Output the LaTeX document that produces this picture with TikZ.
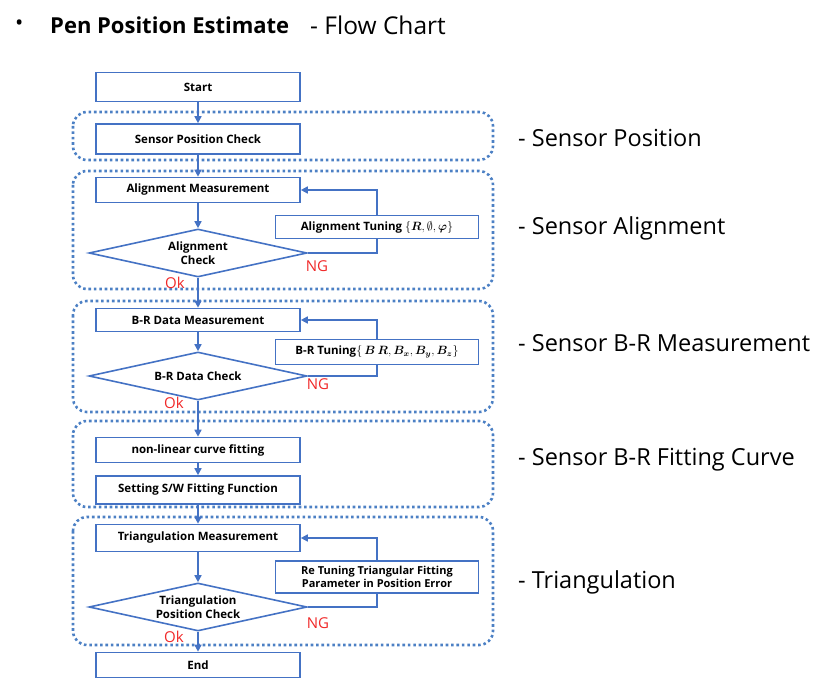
\documentclass[tikz,border=0pt]{standalone}
\usepackage{amsmath}
\usepackage{fontspec}
\setmainfont{Open Sans}
\usetikzlibrary{shapes.geometric,arrows.meta}
\definecolor{boxblue}{RGB}{68,114,196}
\definecolor{dotblue}{RGB}{76,128,196}
\definecolor{ngred}{RGB}{240,40,40}

\begin{document}
\begin{tikzpicture}[x = 1pt, y = -1pt,
    box/.style = {draw = boxblue, line width = 1.6pt, minimum width = 204pt, minimum height = 25pt, inner sep = 1pt, font = \fontsize{11.5}{13}\selectfont\bfseries},
    tune/.style = {box, minimum width = 203pt, align = center},
    check/.style = {draw = boxblue, line width = 1.6pt, shape = diamond, aspect = 4.5, minimum width = 218pt, minimum height = 48pt, inner sep = 0pt, align = center, font = \fontsize{11.5}{13.5}\selectfont\bfseries},
    group/.style = {draw = dotblue, line width = 2.6pt, dash pattern = on 2.6pt off 2.8pt, rounded corners = 14pt},
    flow/.style = {draw = boxblue, line width = 1.6pt},
    arr/.style = {flow, -{Triangle[length = 7pt, width = 7pt]}},
    phase/.style = {anchor = west, inner sep = 0pt, font = \fontsize{23.5}{27}\selectfont},
    result/.style = {text = ngred, inner sep = 0pt, font = \fontsize{15}{17}\selectfont}]
    \useasboundingbox (0,0) rectangle (828,682);

    % title
    \node[anchor = west, inner sep = 0pt, font = \fontsize{22}{26}\selectfont] (bullet) at (15,25) {\textbullet};
    \node[anchor = west, inner sep = 0pt, font = \fontsize{22}{26}\selectfont] (title) at (50,25) {\textbf{Pen Position Estimate}};
    \node[anchor = west, inner sep = 0pt, font = \fontsize{24.5}{28}\selectfont] (sub) at (310,25) {- Flow Chart};

    % dotted groups
    \draw[group] (73,112) rectangle (493,160);
    \draw[group] (73,171) rectangle (493,289);
    \draw[group] (73,301) rectangle (493,412);
    \draw[group] (73,421) rectangle (493,507);
    \draw[group] (73,517) rectangle (493,645);

    % boxes
    \node[box, minimum height = 29pt] (start) at (198,87) {Start};
    \node[box, minimum height = 30pt] (spc) at (198,139) {Sensor Position Check};

    \node[box] (am) at (198,190) {Alignment Measurement};
    \node[tune, minimum height = 23pt] (at) at (377,227) {Alignment Tuning $\{\boldsymbol{R},\emptyset,\boldsymbol{\varphi}\}$};
    \node[check] (ac) at (198,253) {Alignment\\Check};

    \node[box, minimum height = 23pt] (bm) at (198,320) {B-R Data Measurement};
    \node[tune] (bt) at (377,352) {B-R Tuning$\{\,\boldsymbol{B\,R},\boldsymbol{B_x},\boldsymbol{B_y},\boldsymbol{B_z}\}$};
    \node[check] (bc) at (198,376) {B-R Data Check};

    \node[box] (nl) at (198,450) {non-linear curve fitting};
    \node[box, minimum height = 28pt] (sw) at (198,490) {Setting S/W Fitting Function};

    \node[box, minimum height = 27pt] (tm) at (198,538) {Triangulation Measurement};
    \node[tune, minimum height = 32pt, font = \fontsize{11}{12.5}\selectfont\bfseries] (tt) at (377,577) {Re Tuning Triangular Fitting\\Parameter in Position Error};
    \node[check] (tc) at (198,607) {Triangulation\\Position Check};
    \node[box] (end) at (198,665) {End};

    % arrows
    \draw[arr] (start) -- (spc);
    \draw[arr] (spc) -- (am);
    \draw[arr] (am) -- (ac);
    \draw[arr] (ac) -- (bm);
    \draw[arr] (bm) -- (bc);
    \draw[arr] (bc) -- (nl);
    \draw[arr] (nl) -- (sw);
    \draw[arr] (sw) -- (tm);
    \draw[arr] (tm) -- (tc);
    \draw[arr] (tc) -- (end);

    % loops back
    \draw[flow] (ac.east) -| (at.south);
    \draw[arr] (at.north) |- (am.east);
    \draw[flow] (bc.east) -| (bt.south);
    \draw[arr] (bt.north) |- (bm.east);
    \draw[flow] (tc.east) -| (tt.south);
    \draw[arr] (tt.north) |- (tm.east);

    % results
    \node[result] (ng1) at (317,266) {NG};
    \node[result] (ok1) at (175,283) {Ok};
    \node[result] (ng2) at (318,384) {NG};
    \node[result] (ok2) at (174,403) {Ok};
    \node[result] (ng3) at (318,623) {NG};
    \node[result] (ok3) at (174,637) {Ok};

    % phases
    \node[phase] (p1) at (518,138) {- Sensor Position};
    \node[phase] (p2) at (518,228) {- Sensor Alignment};
    \node[phase] (p3) at (518,343) {- Sensor B-R Measurement};
    \node[phase] (p4) at (518,460) {- Sensor B-R Fitting Curve};
    \node[phase] (p5) at (518,582) {- Triangulation};
\end{tikzpicture}
\end{document}
